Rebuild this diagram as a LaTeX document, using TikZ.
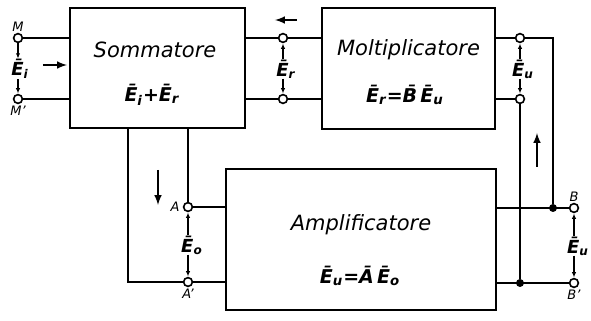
\documentclass[tikz,border=0pt]{standalone}
\usepackage{fontspec}
\setsansfont{DejaVu Sans}
\usetikzlibrary{arrows.meta,positioning}
\newcommand{\vb}[2]{\={#1}\textsubscript{#2}}
\begin{document}
\begin{tikzpicture}[x=0.5pt, y=-0.5pt, font=\sffamily\itshape, >=latex,
          blk/.style={draw, line width=0.7pt, inner sep=0pt},
          term/.style={circle, draw, fill=white, line width=0.8pt, minimum size=4.4pt, inner sep=0pt},
          jdot/.style={circle, fill, minimum size=4pt, inner sep=0pt},
          wire/.style={line width=0.9pt},
          flow/.style={->, line width=0.7pt},
          tick/.style={-{Latex[length=2.6pt,width=2.2pt]}, line width=0.7pt, shorten >=0.2pt},
          blkname/.style={font=\sffamily\itshape\fontsize{10.5}{13}\selectfont},
          eqn/.style={font=\sffamily\itshape\bfseries\fontsize{9.5}{11}\selectfont},
          vlab/.style={font=\sffamily\itshape\bfseries\fontsize{9}{11}\selectfont, inner sep=0pt},
          tlab/.style={font=\sffamily\itshape\fontsize{6.5}{7}\selectfont, inner sep=0.5pt}]
        \useasboundingbox (0,0) rectangle (591,321);
        % Blocks, sizes in pixels of the reference (1 px = 0.5 pt)
        \node[blk, minimum width=87.5pt, minimum height=60pt] (som) at (157.5,68) {};
        \node[blk, minimum width=86.5pt, minimum height=60.5pt] (mol) at (408.5,68.5) {};
        \node[blk, minimum width=135pt, minimum height=70.5pt] (amp) at (361,239.5) {};
        \node[blkname] at (155,50) {Sommatore};
        \node[eqn] at (152,95) {\vb{E}{i}+\vb{E}{r}};
        \node[blkname] at (408.5,50) {Moltiplicatore};
        \node[eqn] at (405,95) {\vb{E}{r}=\={B}\,\vb{E}{u}};
        \node[blkname] at (361,225) {Amplificatore};
        \node[eqn] at (360,276) {\vb{E}{u}=\={A}\,\vb{E}{o}};
        % Terminals
        \foreach \n/\x/\y in {M/18/38, Mp/18/99, Er1/283/38, Er2/283/99, Eu1/520/38, Eu2/520/99,
                              A/188/207, Ap/188/282, B/574/208, Bp/574/283}
          \node[term] (\n) at (\x,\y) {};
        \node[jdot] (J1) at (553,208) {};
        \node[jdot] (J2) at (520,283) {};
        \coordinate (c1) at (553,38);
        \coordinate (c2) at (128,282);
        % Wires
        \draw[wire] (M) -- (M -| som.west);
        \draw[wire] (Mp) -- (Mp -| som.west);
        \draw[wire] (som.east |- Er1) -- (Er1) -- (Er1 -| mol.west);
        \draw[wire] (som.east |- Er2) -- (Er2) -- (Er2 -| mol.west);
        \draw[wire] (mol.east |- Eu1) -- (Eu1) -- (c1) -- (J1);
        \draw[wire] (mol.east |- Eu2) -- (Eu2) -- (J2);
        \draw[wire] (amp.east |- B) -- (B);
        \draw[wire] (amp.east |- Bp) -- (Bp);
        \draw[wire] (som.south -| A) -- (A) -- (A -| amp.west);
        \draw[wire] (som.south -| c2) -- (c2) -- (Ap) -- (Ap -| amp.west);
        % Voltages across the terminal pairs
        \node[vlab] (Ei) at (20,69) {\vb{E}{i}};
        \node[vlab] (Er) at (286,69) {\vb{E}{r}};
        \node[vlab] (Eu) at (523,69) {\vb{E}{u}};
        \node[vlab] (Eo) at (192,245) {\vb{E}{o}};
        \node[vlab] (Eb) at (578,246) {\vb{E}{u}};
        \draw[tick] (M) -- (Ei.north -| M);
        \draw[tick] (Ei.south -| Mp) -- (Mp);
        \foreach \t/\u/\v in {Er/Er1/Er2, Eu/Eu1/Eu2, Eo/A/Ap, Eb/B/Bp} {
          \draw[tick] (\t.north -| \u) -- (\u);
          \draw[tick] (\t.south -| \v) -- (\v);
        }
        \node[tlab, above=0pt of M] {M};
        \node[tlab, below=0pt of Mp] {M'};
        \node[tlab, left=1pt of A] {A};
        \node[tlab, below=0pt of Ap] {A'};
        \node[tlab, above=0pt of B] {B};
        \node[tlab, below=0pt of Bp] {B'};
        % Signal direction
        \draw[flow] (43,65) -- (67,65);
        \draw[flow] (297,20) -- (275,20);
        \draw[flow] (158,170) -- (158,205);
        \draw[flow] (537,167) -- (537,133);
      \end{tikzpicture}
\end{document}
